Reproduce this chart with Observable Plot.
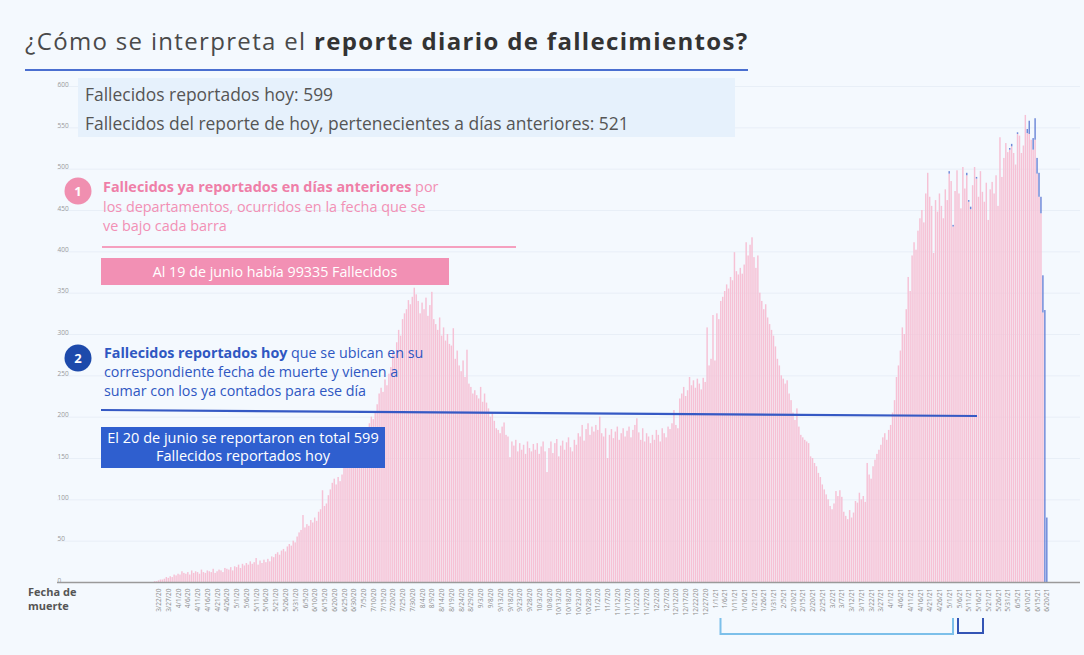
<!DOCTYPE html>
<html><head><meta charset="utf-8">
<script src="https://cdn.jsdelivr.net/npm/d3@7"></script>
<script src="https://cdn.jsdelivr.net/npm/@observablehq/plot@0.6"></script>
<style>
body{margin:0;background:#f4f9fe;}
#wrap{position:relative;width:1084px;height:655px;overflow:hidden;background:#f4f9fe;font-family:"Open Sans",sans-serif;}
#chart{position:absolute;left:0;top:0;}
.abs{position:absolute;white-space:nowrap;}
#deco{position:absolute;left:0;top:0;pointer-events:none;}
</style></head><body>
<div id="wrap">
  <div id="chart"></div>
  <div class="abs" style="left:78px;top:78px;width:657px;height:59px;background:#e6f1fc;"></div>
  <div class="abs" style="left:25px;top:24px;font-size:24px;letter-spacing:1.33px;color:#4a4a4a;">¿Cómo se interpreta el <b style="color:#333">reporte diario de fallecimientos?</b></div>
  <div class="abs" style="left:85px;top:80px;font-size:17.45px;color:#555;line-height:29px;">Fallecidos reportados hoy: 599<br>Fallecidos del reporte de hoy, pertenecientes a días anteriores: 521</div>
  <div class="abs" style="left:103px;top:177px;font-size:14.4px;color:#f290b5;line-height:19.5px;"><b style="color:#ef7fa8">Fallecidos ya reportados en días anteriores</b> por<br>los departamentos, ocurridos en la fecha que se<br>ve bajo cada barra</div>
  <div class="abs" style="left:101px;top:258px;width:348px;height:27px;background:#f290b4;color:#fff;font-size:14.3px;line-height:27px;text-align:center;">Al 19 de junio había 99335 Fallecidos</div>
  <div class="abs" style="left:104px;top:343px;font-size:14.3px;color:#2f57c2;line-height:19px;"><b>Fallecidos reportados hoy</b> que se ubican en su<br>correspondiente fecha de muerte y vienen a<br>sumar con los ya contados para ese día</div>
  <div class="abs" style="left:101px;top:427px;width:284px;height:41px;background:#2f5fcf;color:#fff;font-size:14.5px;line-height:18px;text-align:center;padding-top:2px;box-sizing:border-box;">El 20 de junio se reportaron en total 599<br>Fallecidos reportados hoy</div>
  <div class="abs" style="left:28px;top:585px;font-size:11px;font-weight:bold;color:#555;line-height:14px;">Fecha de<br>muerte</div>
  <svg id="deco" width="1084" height="655">
    <line x1="25" y1="70" x2="748" y2="70" stroke="#4a6fd0" stroke-width="2"/>
    <line x1="102" y1="247" x2="516" y2="247" stroke="#f5a0bf" stroke-width="2"/>
    <line x1="101" y1="410" x2="977" y2="416" stroke="#3559c4" stroke-width="2.2"/>
    <circle cx="78" cy="191" r="13.5" fill="#f08fb0"/>
    <text x="78" y="196" text-anchor="middle" fill="#fff" font-family="Open Sans" font-weight="bold" font-size="13">1</text>
    <circle cx="78" cy="358" r="13.5" fill="#1d4aab"/>
    <text x="78" y="363" text-anchor="middle" fill="#fff" font-family="Open Sans" font-weight="bold" font-size="13">2</text>
    <path d="M720.5,618 V634 H953 V618" fill="none" stroke="#7cc0ea" stroke-width="2"/>
    <path d="M958,618 V633 H983 V618" fill="none" stroke="#3355b5" stroke-width="2"/>
  </svg>
</div>
<script>
// Fallecidos por fecha de muerte (diarios), desde el 20/03/2020
const fechaInicio = "2020-03-20";
const mar20 = [1,1,2,3,3,4,6,5,7,6,9,8];
const abr20 = [10,9,13,11,10,12,9,14,11,13,12,10,15,12,11,14,13,12,16,11,13,15,14,12,17,16,15,18,14,19];
const may20 = [18,21,17,22,20,23,21,25,22,24,29,21,26,23,27,24,28,25,31,30,34,36,33,38,40,37,43,46,44,50,48];
const jun20 = [55,60,63,81,66,70,68,75,72,78,74,85,88,111,92,95,105,112,120,125,118,127,122,130,139,143,148,145,150,156];
const jul20 = [158,163,160,172,178,185,182,192,200,197,206,215,228,235,230,245,238,252,260,280,275,290,305,298,318,325,330,341,336,345,356];
const ago20 = [348,340,325,338,330,344,322,335,351,318,312,305,320,298,308,292,300,288,286,307,270,280,262,255,268,248,281,240,236,228,232];
const sep20 = [226,222,236,218,228,217,210,200,205,195,186,184,180,188,193,178,176,151,170,165,172,158,168,160,166,155,170,162,158,167];
const oct20 = [160,168,155,164,170,158,133,162,170,156,168,173,152,165,171,160,169,175,163,158,172,166,180,176,190,171,185,192,178,188,182];
const nov20 = [190,184,200,180,176,186,150,178,185,174,182,188,172,180,186,176,183,188,175,184,190,198,181,172,186,170,180,176,168,178];
const dic20 = [172,184,178,170,186,180,175,188,185,192,208,190,186,222,228,236,225,232,248,238,244,235,246,240,233,247,242,308,262,270,323];
const ene21 = [268,325,318,340,345,352,360,355,369,365,399,376,372,380,373,384,411,395,408,417,393,380,395,350,340,330,336,320,312,305,298];
const feb21 = [285,270,262,250,246,240,244,228,220,205,196,210,188,178,175,172,170,168,152,150,144,140,132,127,118,112,106,100];
const mar21 = [92,88,95,110,104,111,103,85,80,76,87,78,84,98,96,108,100,104,97,144,130,125,140,148,155,160,166,175,180,172,184];
const abr21 = [190,205,220,248,262,280,308,300,330,369,352,395,411,402,425,440,450,435,470,495,466,455,398,462,448,470,455,440,475,462];
const may21 = [497,485,432,473,498,470,452,502,476,495,462,454,480,502,490,466,497,472,460,483,438,475,484,470,492,455,538,490,513,531,520];
const jun21 = [525,530,519,505,544,540,519,528,565,548,558,535,537,561,513,495,466,371,329,78];
// Fallecidos reportados hoy (20/06/2021) según su fecha de muerte
const hoyMay21 = [3,0,2,0,0,0,0,0,0,3,2,3,0,0,2,0,0,0,0,0,0,0,0,0,0,0,0,0,0,0,0];
const hoyJun21 = [2,3,0,0,2,0,0,0,0,5,16,0,14,26,19,29,20,45,329,78];
const ticksY = [0,50,100,150,200,250,300,350,400,450,500,550,600];

const totales = [].concat(mar20,abr20,may20,jun20,jul20,ago20,sep20,oct20,nov20,dic20,ene21,feb21,mar21,abr21,may21,jun21);
const hoy = new Array(totales.length - hoyMay21.length - hoyJun21.length).fill(0).concat(hoyMay21, hoyJun21);
const t0 = new Date(fechaInicio + "T00:00Z");
const filas = totales.map((v, i) => {
  const f = d3.utcDay.offset(t0, i);
  return {fecha: f, fin: d3.utcDay.offset(f, 1), total: v, rosa: v - hoy[i], azul: hoy[i]};
});
const ultima = filas[filas.length - 1].fecha;
const ticksX = d3.utcDay.range(new Date("2020-03-22T00:00Z"), d3.utcDay.offset(ultima, 1)).filter((d, i) => i % 5 === 0);
const fmt = d3.utcFormat("%-m/%-d/%y");
const x0 = new Date("2020-01-30T12:00Z"), x1 = new Date("2021-07-07T12:00Z");

const chart = Plot.plot({
  width: 1084, height: 655,
  marginTop: 86, marginBottom: 73, marginLeft: 57, marginRight: 4,
  style: {background: "transparent", overflow: "visible", fontFamily: "Open Sans"},
  x: {type: "utc", domain: [x0, x1], axis: null},
  y: {domain: [0, 600], axis: null},
  marks: [
    Plot.ruleY(ticksY.slice(1), {stroke: "#e4ecf5", strokeWidth: 0.8}),
    Plot.rect(filas, {x1: "fecha", x2: "fin", y1: 0, y2: "rosa", fill: "#f6c1d5", insetLeft: 0.25, insetRight: 0.25}),
    Plot.rect(filas.filter(d => d.azul > 0), {x1: "fecha", x2: "fin", y1: "rosa", y2: "total", fill: "#6e88d8", insetLeft: 0.25, insetRight: 0.25}),
    Plot.ruleY([0], {stroke: "#9a9a9a", strokeWidth: 1.5}),
    Plot.text(ticksY, {x: x0, y: d => d, text: d => String(d), textAnchor: "start", fontSize: 6.5, fill: "#9a9a9a", dy: -2}),
    Plot.text(ticksX, {x: d => d3.utcHour.offset(d, 12), y: 0, text: d => fmt(d), rotate: -90, textAnchor: "end", fontSize: 6.5, fill: "#8a8a8a", dy: 6})
  ]
});
document.getElementById("chart").appendChild(chart);
</script>
</body></html>
